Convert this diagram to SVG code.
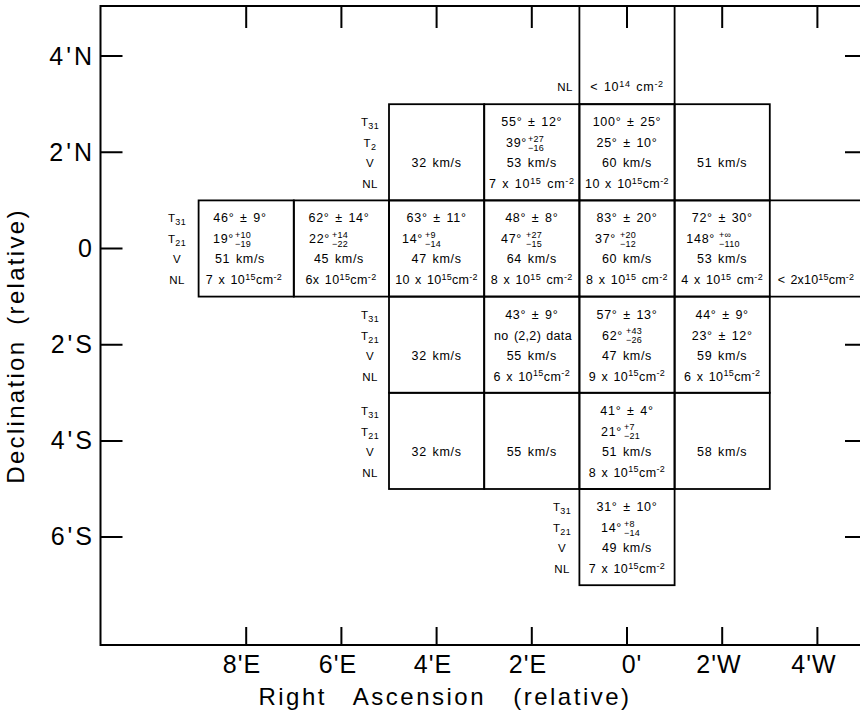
<svg xmlns="http://www.w3.org/2000/svg" width="860" height="713" viewBox="0 0 860 713">
<defs>
<style>
text{font-family:"Liberation Sans",Arial,sans-serif;fill:#000}
.t{font-size:12.5px;text-anchor:middle;letter-spacing:0.7px;word-spacing:1.5px}
.e{font-size:12.5px;text-anchor:end;letter-spacing:0.7px}
.k{font-size:9px;text-anchor:start;letter-spacing:0.3px}
.u{font-size:9px}
.lb{font-size:11.5px;text-anchor:middle;letter-spacing:0.4px}
.ax{font-size:25px;text-anchor:end;letter-spacing:3px}
.xl{font-size:25px;text-anchor:middle;letter-spacing:1px}
.ti{font-size:24px;text-anchor:middle;letter-spacing:2.5px;word-spacing:18px}
.cell{fill:none;stroke:#000;stroke-width:1.8}
.fr{fill:none;stroke:#000;stroke-width:2}
.tk{stroke:#000;stroke-width:2}
</style>
</defs>
<rect width="860" height="713" fill="#fff"/>

<g id="axes">
<path class="fr" d="M860,6 H100.5 V645 H860"/>
<path class="tk" d="M246.2,6v22M341.4,6v22M436.6,6v22M531.8,6v22M627,6v22M722.2,6v22M817.4,6v22
M246.2,645v-18M341.4,645v-18M436.6,645v-18M531.8,645v-18M627,645v-18M722.2,645v-18M817.4,645v-18
M100.5,56.1h22M100.5,152.3h22M100.5,248.5h22M100.5,344.7h22M100.5,440.9h22M100.5,537.1h22
M860,56.1h-15M860,152.3h-15M860,344.7h-15M860,440.9h-15M860,537.1h-15"/>
<text class="ax" x="95" y="65">4'N</text>
<text class="ax" x="95" y="161">2'N</text>
<text class="ax" x="95" y="257">0</text>
<text class="ax" x="95" y="353">2'S</text>
<text class="ax" x="95" y="449">4'S</text>
<text class="ax" x="95" y="545">6'S</text>
<text class="xl" x="242" y="673">8'E</text>
<text class="xl" x="338" y="673">6'E</text>
<text class="xl" x="433" y="673">4'E</text>
<text class="xl" x="528" y="673">2'E</text>
<text class="xl" x="632" y="673">0'</text>
<text class="xl" x="719" y="673">2'W</text>
<text class="xl" x="814" y="673">4'W</text>
<text class="ti" x="445" y="705">Right Ascension (relative)</text>
<text class="ti" transform="translate(24,346) rotate(-90)" style="word-spacing:6px;letter-spacing:2.3px">Declination (relative)</text>
</g>

<g id="cell-top-0">
<rect class="cell" x="579.4" y="6" width="95.2" height="98.2"/>
<text class="lb" x="565" y="91">NL</text>
<text class="t" x="627" y="91">&lt; 10<tspan class="u" dy="-4.5">14</tspan><tspan dy="4.5"> cm</tspan><tspan class="u" dy="-4.5">-2</tspan></text>
</g>

<g id="labels-row-2N">
<text class="lb" x="370" y="126.2">T<tspan class="u" dy="3">31</tspan></text>
<text class="lb" x="370" y="147.2">T<tspan class="u" dy="3">2</tspan></text>
<text class="lb" x="370" y="167.2">V</text>
<text class="lb" x="370" y="188.2">NL</text>
</g>
<g id="cell-2N-4E">
<rect class="cell" x="389" y="104.2" width="95.2" height="96.2"/>
<text class="t" x="436.6" y="167.2">32 km/s</text>
</g>
<g id="cell-2N-2E">
<rect class="cell" x="484.2" y="104.2" width="95.2" height="96.2"/>
<text class="t" x="531.8" y="126.2">55° ± 12°</text>
<text class="e" x="527" y="147.2">39°</text>
<text class="k" x="528" y="141.7">+27</text>
<text class="k" x="528" y="150.7">−16</text>
<text class="t" x="531.8" y="167.2">53 km/s</text>
<text class="t" x="531.8" y="188.2">7 x 10<tspan class="u" dy="-4.5">15</tspan><tspan dy="4.5"> cm</tspan><tspan class="u" dy="-4.5">-2</tspan></text>
</g>
<g id="cell-2N-0">
<rect class="cell" x="579.4" y="104.2" width="95.2" height="96.2"/>
<text class="t" x="627" y="126.2">100° ± 25°</text>
<text class="t" x="627" y="147.2">25° ± 10°</text>
<text class="t" x="627" y="167.2">60 km/s</text>
<text class="t" x="627" y="188.2" style="letter-spacing:0.4px">10 x 10<tspan class="u" dy="-4.5">15</tspan><tspan dy="4.5">cm</tspan><tspan class="u" dy="-4.5">-2</tspan></text>
</g>
<g id="cell-2N-2W">
<rect class="cell" x="674.6" y="104.2" width="95.2" height="96.2"/>
<text class="t" x="722.2" y="167.2">51 km/s</text>
</g>

<g id="labels-row-0">
<text class="lb" x="177" y="222.4">T<tspan class="u" dy="3">31</tspan></text>
<text class="lb" x="177" y="243.4">T<tspan class="u" dy="3">21</tspan></text>
<text class="lb" x="177" y="263.4">V</text>
<text class="lb" x="177" y="284.4">NL</text>
</g>
<g id="cell-0-8E">
<rect class="cell" x="198.6" y="200.4" width="95.2" height="96.2"/>
<text class="t" x="240" y="222.4">46° ± 9°</text>
<text class="e" x="234" y="243.4">19°</text>
<text class="k" x="235" y="237.9">+10</text>
<text class="k" x="235" y="246.9">−19</text>
<text class="t" x="240" y="263.4">51 km/s</text>
<text class="t" x="244" y="284.4" style="letter-spacing:0.4px">7 x 10<tspan class="u" dy="-4.5">15</tspan><tspan dy="4.5">cm</tspan><tspan class="u" dy="-4.5">-2</tspan></text>
</g>
<g id="cell-0-6E">
<rect class="cell" x="293.8" y="200.4" width="95.2" height="96.2"/>
<text class="t" x="339" y="222.4">62° ± 14°</text>
<text class="e" x="330" y="243.4">22°</text>
<text class="k" x="332" y="237.9">+14</text>
<text class="k" x="332" y="246.9">−22</text>
<text class="t" x="339" y="263.4">45 km/s</text>
<text class="t" x="341" y="284.4" style="letter-spacing:0.4px">6x 10<tspan class="u" dy="-4.5">15</tspan><tspan dy="4.5">cm</tspan><tspan class="u" dy="-4.5">-2</tspan></text>
</g>
<g id="cell-0-4E">
<rect class="cell" x="389" y="200.4" width="95.2" height="96.2"/>
<text class="t" x="436.6" y="222.4">63° ± 11°</text>
<text class="e" x="423" y="243.4">14°</text>
<text class="k" x="425" y="237.9">+9</text>
<text class="k" x="425" y="246.9">−14</text>
<text class="t" x="436.6" y="263.4">47 km/s</text>
<text class="t" x="436.6" y="284.4" style="letter-spacing:0.3px">10 x 10<tspan class="u" dy="-4.5">15</tspan><tspan dy="4.5">cm</tspan><tspan class="u" dy="-4.5">-2</tspan></text>
</g>
<g id="cell-0-2E">
<rect class="cell" x="484.2" y="200.4" width="95.2" height="96.2"/>
<text class="t" x="531.8" y="222.4">48° ± 8°</text>
<text class="e" x="522" y="243.4">47°</text>
<text class="k" x="526" y="237.9">+27</text>
<text class="k" x="526" y="246.9">−15</text>
<text class="t" x="531.8" y="263.4">64 km/s</text>
<text class="t" x="531.8" y="284.4" style="letter-spacing:0.4px">8 x 10<tspan class="u" dy="-4.5">15</tspan><tspan dy="4.5"> cm</tspan><tspan class="u" dy="-4.5">-2</tspan></text>
</g>
<g id="cell-0-0">
<rect class="cell" x="579.4" y="200.4" width="95.2" height="96.2"/>
<text class="t" x="627" y="222.4">83° ± 20°</text>
<text class="e" x="616" y="243.4">37°</text>
<text class="k" x="620" y="237.9">+20</text>
<text class="k" x="620" y="246.9">−12</text>
<text class="t" x="627" y="263.4">60 km/s</text>
<text class="t" x="627" y="284.4" style="letter-spacing:0.4px">8 x 10<tspan class="u" dy="-4.5">15</tspan><tspan dy="4.5"> cm</tspan><tspan class="u" dy="-4.5">-2</tspan></text>
</g>
<g id="cell-0-2W">
<rect class="cell" x="674.6" y="200.4" width="95.2" height="96.2"/>
<text class="t" x="722.2" y="222.4">72° ± 30°</text>
<text class="e" x="715" y="243.4">148°</text>
<text class="k" x="719" y="237.9">+∞</text>
<text class="k" x="719" y="246.9">−110</text>
<text class="t" x="722.2" y="263.4">53 km/s</text>
<text class="t" x="722.2" y="284.4" style="letter-spacing:0.4px">4 x 10<tspan class="u" dy="-4.5">15</tspan><tspan dy="4.5"> cm</tspan><tspan class="u" dy="-4.5">-2</tspan></text>
</g>
<g id="cell-0-4W">
<path class="cell" d="M769.8,200.4H860M769.8,296.6H860"/>
<text class="t" x="816" y="284.4" style="letter-spacing:0.2px">&lt; 2x10<tspan class="u" dy="-4.5">15</tspan><tspan dy="4.5">cm</tspan><tspan class="u" dy="-4.5">-2</tspan></text>
</g>

<g id="labels-row-2S">
<text class="lb" x="370" y="318.6">T<tspan class="u" dy="3">31</tspan></text>
<text class="lb" x="370" y="339.6">T<tspan class="u" dy="3">21</tspan></text>
<text class="lb" x="370" y="359.6">V</text>
<text class="lb" x="370" y="380.6">NL</text>
</g>
<g id="cell-2S-4E">
<rect class="cell" x="389" y="296.6" width="95.2" height="96.2"/>
<text class="t" x="436.6" y="359.6">32 km/s</text>
</g>
<g id="cell-2S-2E">
<rect class="cell" x="484.2" y="296.6" width="95.2" height="96.2"/>
<text class="t" x="531.8" y="318.6">43° ± 9°</text>
<text class="t" x="533" y="339.6" style="letter-spacing:0.3px">no (2,2) data</text>
<text class="t" x="531.8" y="359.6">55 km/s</text>
<text class="t" x="531.8" y="380.6" style="letter-spacing:0.4px">6 x 10<tspan class="u" dy="-4.5">15</tspan><tspan dy="4.5">cm</tspan><tspan class="u" dy="-4.5">-2</tspan></text>
</g>
<g id="cell-2S-0">
<rect class="cell" x="579.4" y="296.6" width="95.2" height="96.2"/>
<text class="t" x="627" y="318.6">57° ± 13°</text>
<text class="e" x="623" y="339.6">62°</text>
<text class="k" x="626" y="334.1">+43</text>
<text class="k" x="626" y="343.1">−26</text>
<text class="t" x="627" y="359.6">47 km/s</text>
<text class="t" x="627" y="380.6" style="letter-spacing:0.4px">9 x 10<tspan class="u" dy="-4.5">15</tspan><tspan dy="4.5">cm</tspan><tspan class="u" dy="-4.5">-2</tspan></text>
</g>
<g id="cell-2S-2W">
<rect class="cell" x="674.6" y="296.6" width="95.2" height="96.2"/>
<text class="t" x="722.2" y="318.6">44° ± 9°</text>
<text class="t" x="722.2" y="339.6">23° ± 12°</text>
<text class="t" x="722.2" y="359.6">59 km/s</text>
<text class="t" x="722.2" y="380.6" style="letter-spacing:0.4px">6 x 10<tspan class="u" dy="-4.5">15</tspan><tspan dy="4.5">cm</tspan><tspan class="u" dy="-4.5">-2</tspan></text>
</g>

<g id="labels-row-4S">
<text class="lb" x="370" y="414.8">T<tspan class="u" dy="3">31</tspan></text>
<text class="lb" x="370" y="435.8">T<tspan class="u" dy="3">21</tspan></text>
<text class="lb" x="370" y="455.8">V</text>
<text class="lb" x="370" y="476.8">NL</text>
</g>
<g id="cell-4S-4E">
<rect class="cell" x="389" y="392.8" width="95.2" height="96.2"/>
<text class="t" x="436.6" y="455.8">32 km/s</text>
</g>
<g id="cell-4S-2E">
<rect class="cell" x="484.2" y="392.8" width="95.2" height="96.2"/>
<text class="t" x="531.8" y="455.8">55 km/s</text>
</g>
<g id="cell-4S-0">
<rect class="cell" x="579.4" y="392.8" width="95.2" height="96.2"/>
<text class="t" x="627" y="414.8">41° ± 4°</text>
<text class="e" x="622" y="435.8">21°</text>
<text class="k" x="624" y="430.3">+7</text>
<text class="k" x="624" y="439.3">−21</text>
<text class="t" x="627" y="455.8">51 km/s</text>
<text class="t" x="627" y="476.8" style="letter-spacing:0.4px">8 x 10<tspan class="u" dy="-4.5">15</tspan><tspan dy="4.5">cm</tspan><tspan class="u" dy="-4.5">-2</tspan></text>
</g>
<g id="cell-4S-2W">
<rect class="cell" x="674.6" y="392.8" width="95.2" height="96.2"/>
<text class="t" x="722.2" y="455.8">58 km/s</text>
</g>

<g id="labels-row-6S">
<text class="lb" x="562" y="511">T<tspan class="u" dy="3">31</tspan></text>
<text class="lb" x="562" y="532">T<tspan class="u" dy="3">21</tspan></text>
<text class="lb" x="562" y="552">V</text>
<text class="lb" x="562" y="573">NL</text>
</g>
<g id="cell-6S-0">
<rect class="cell" x="579.4" y="489" width="95.2" height="96.2"/>
<text class="t" x="627" y="511">31° ± 10°</text>
<text class="e" x="622" y="532">14°</text>
<text class="k" x="624" y="526.5">+8</text>
<text class="k" x="624" y="535.5">−14</text>
<text class="t" x="627" y="552">49 km/s</text>
<text class="t" x="627" y="573" style="letter-spacing:0.4px">7 x 10<tspan class="u" dy="-4.5">15</tspan><tspan dy="4.5">cm</tspan><tspan class="u" dy="-4.5">-2</tspan></text>
</g>
</svg>
